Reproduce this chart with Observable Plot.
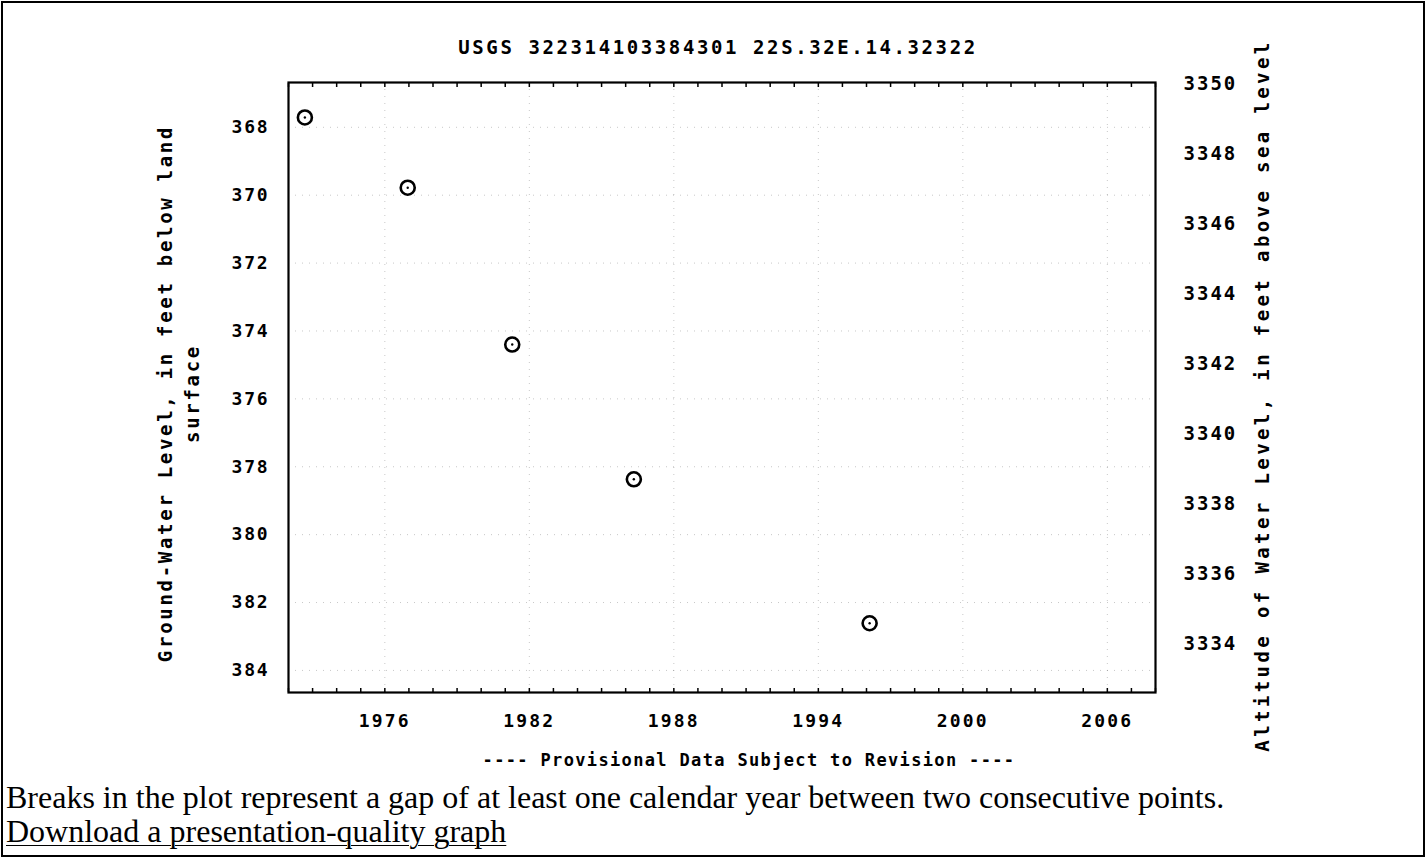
<!DOCTYPE html>
<html>
<head>
<meta charset="utf-8">
<script src="https://cdn.jsdelivr.net/npm/d3@7"></script>
<script src="https://cdn.jsdelivr.net/npm/@observablehq/plot@0.6"></script>
<style>
  html, body { margin: 0; padding: 0; background: #fff; }
  #page { position: relative; width: 1426px; height: 858px; overflow: hidden; background: #fff; }
  #border { position: absolute; left: 1px; top: 1px; width: 1420px; height: 852px; border: 2px solid #000; pointer-events: none; }
  #title { height: 70px; box-sizing: border-box; padding-top: 36px; padding-left: 10px; text-align: center;
           font-family: "DejaVu Sans Mono", monospace; font-weight: bold; font-size: 19px; line-height: 22px; letter-spacing: 2.6px; color: #000; }
  #chart svg { display: block; }
  .note { position: absolute; left: 6px; font-family: "Liberation Serif", "Times New Roman", serif; font-size: 32px; line-height: 32px; color: #000; white-space: nowrap; }
  #note1 { top: 781px; }
  #note2 { top: 815px; text-decoration: underline; text-decoration-thickness: 1px; text-underline-offset: 3px; }
</style>
</head>
<body>
<div id="page">
  <div id="title"></div>
  <div id="chart"></div>
  <div class="note" id="note1"></div>
  <div class="note" id="note2"></div>
  <div id="border"></div>
</div>
<script>
// ---- data ----
const titleText = "USGS 322314103384301 22S.32E.14.32322";
const measurementYears = [1972.68, 1976.95, 1981.29, 1986.34, 1996.13];
const depthBelowSurface = [367.71, 369.78, 374.40, 378.37, 382.61];
const depthTicks = [368, 370, 372, 374, 376, 378, 380, 382, 384];
const altitudeTicks = [3334, 3336, 3338, 3340, 3342, 3344, 3346, 3348, 3350];
const yearTicks = [1976, 1982, 1988, 1994, 2000, 2006];
const minorYearTicks = d3.range(1972, 2009);
// right-hand altitude axis as drawn in the reference: 3350 ft sits at 366.71 ft depth,
// and its labels run on a slightly stretched scale (16 ft of altitude over 16.5 ft of depth)
const altitudeTop = 3350, altitudeTopDepth = 366.71, altitudeStretch = 1.03125;
const leftLabel = "Ground-Water Level, in feet below land\nsurface";
const rightLabel = "Altitude of Water Level, in feet above sea level";
const bottomLabel = "---- Provisional Data Subject to Revision ----";
const note1 = "Breaks in the plot represent a gap of at least one calendar year between two consecutive points.";
const note2 = "Download a presentation-quality graph";

const data = measurementYears.map((yr, i) => ({year: yr, depth: depthBelowSurface[i]}));
const altToDepth = a => altitudeTopDepth + (altitudeTop - a) * altitudeStretch;
const depthToAlt = d => altitudeTop - (d - altitudeTopDepth) / altitudeStretch;

document.getElementById("title").textContent = titleText;
document.getElementById("note1").textContent = note1;
document.getElementById("note2").textContent = note2;

const gridStyle = {stroke: "#000", strokeOpacity: 0.22, strokeWidth: 1, strokeDasharray: "1,6"};

const chart = Plot.plot({
  width: 1426,
  height: 710,
  marginLeft: 288,
  marginRight: 271,
  marginTop: 12,
  marginBottom: 88,
  x: {domain: [1972, 2008], axis: null},
  y: {domain: [366.68, 384.65], reverse: true, axis: null},
  style: {fontFamily: "DejaVu Sans Mono, monospace", fontWeight: "bold", fontSize: "18px", color: "#000", background: "#fff", overflow: "visible"},
  marks: [
    Plot.gridY(depthTicks, gridStyle),
    Plot.gridX(yearTicks, gridStyle),
    Plot.axisX(minorYearTicks, {anchor: "bottom", tickSize: -4, tickFormat: () => "", label: null, strokeWidth: 1.5}),
    Plot.axisX(minorYearTicks, {anchor: "top", tickSize: -4, tickFormat: () => "", label: null, strokeWidth: 1.5}),
    Plot.axisX(yearTicks, {anchor: "bottom", tickSize: 0, tickPadding: 22, tickFormat: d3.format("d"), label: null, fontSize: 18}),
    Plot.axisY(depthTicks, {anchor: "left", tickSize: 0, tickPadding: 19, label: null, fontSize: 18}),
    Plot.axisY(altitudeTicks.map(altToDepth), {anchor: "right", tickSize: 0, tickPadding: 28, label: null, fontSize: 19,
      tickFormat: d => String(Math.round(depthToAlt(d)))}),
    Plot.frame({stroke: "#000", strokeWidth: 2.2}),
    Plot.dot(data, {x: "year", y: "depth", r: 7, stroke: "#000", strokeWidth: 2.6, fill: "none"}),
    Plot.dot(data, {x: "year", y: "depth", r: 1.2, fill: "#000", stroke: "none"}),
    Plot.text([leftLabel], {frameAnchor: "left", textAnchor: "middle", lineAnchor: "middle", rotate: -90, dx: -112, dy: 6, fontSize: 19, lineHeight: 1.42}),
    Plot.text([rightLabel], {frameAnchor: "right", textAnchor: "middle", lineAnchor: "middle", rotate: -90, dx: 107, dy: 8, fontSize: 19}),
    Plot.text([bottomLabel], {frameAnchor: "bottom", textAnchor: "middle", lineAnchor: "middle", dy: 68, dx: 27, fontSize: 17})
  ]
});

// letter spacing to mimic the condensed bitmap font of the original
const yearSet = new Set(yearTicks.map(String));
const depthSet = new Set(depthTicks.map(String));
const altSet = new Set(altitudeTicks.map(String));
d3.select(chart).selectAll("text").each(function() {
  const t = this.textContent;
  let ls = null;
  if (yearSet.has(t)) ls = 2.2;
  else if (depthSet.has(t)) ls = 1.8;
  else if (altSet.has(t)) ls = 2.0;
  else if (t.startsWith("Ground")) ls = 2.7;
  else if (t.startsWith("Altitude")) ls = 3.4;
  else if (t.startsWith("----")) ls = 1.35;
  if (ls !== null) this.style.letterSpacing = ls + "px";
});
document.getElementById("chart").appendChild(chart);
</script>
</body>
</html>
